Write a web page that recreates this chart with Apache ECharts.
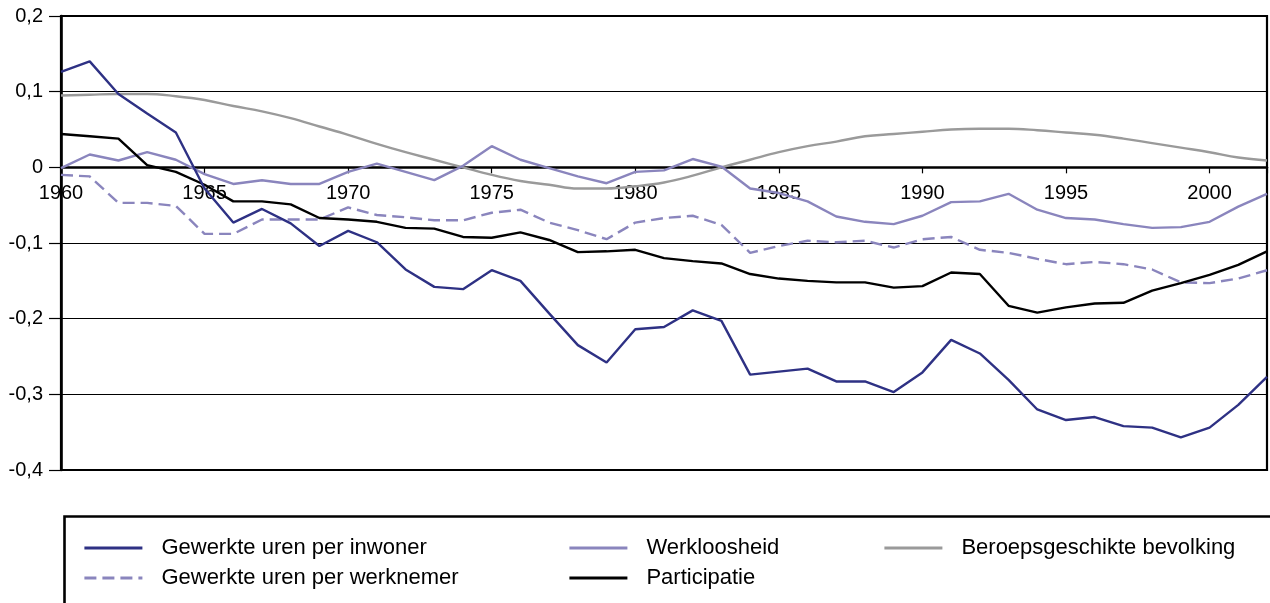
<!DOCTYPE html>
<html>
<head>
<meta charset="utf-8">
<script src="https://cdn.jsdelivr.net/npm/echarts@6/dist/echarts.min.js"></script>
<style>
  html, body { margin: 0; padding: 0; background: #fff; }
  #chart { width: 1270px; height: 603px; }
</style>
</head>
<body>
<div id="chart"></div>
<script>
const years = [1960, 1961, 1962, 1963, 1964, 1965, 1966, 1967, 1968, 1969,
  1970, 1971, 1972, 1973, 1974, 1975, 1976, 1977, 1978, 1979,
  1980, 1981, 1982, 1983, 1984, 1985, 1986, 1987, 1988, 1989,
  1990, 1991, 1992, 1993, 1994, 1995, 1996, 1997, 1998, 1999,
  2000, 2001, 2002]

// Gewerkte uren per inwoner
const urenInwoner = [0.126, 0.140, 0.097, 0.071, 0.046, -0.028, -0.073, -0.055, -0.074, -0.104,
  -0.084, -0.099, -0.135, -0.158, -0.161, -0.136, -0.150, -0.193, -0.235, -0.258,
  -0.214, -0.211, -0.189, -0.203, -0.274, -0.270, -0.266, -0.283, -0.283, -0.297,
  -0.271, -0.228, -0.246, -0.281, -0.320, -0.334, -0.330, -0.342, -0.344, -0.357,
  -0.344, -0.314, -0.277]

// Gewerkte uren per werknemer
const urenWerknemer = [-0.010, -0.012, -0.047, -0.047, -0.051, -0.088, -0.088, -0.069, -0.069, -0.069,
  -0.053, -0.063, -0.066, -0.070, -0.070, -0.060, -0.056, -0.073, -0.083, -0.095,
  -0.073, -0.067, -0.064, -0.076, -0.113, -0.104, -0.097, -0.099, -0.097, -0.106,
  -0.095, -0.092, -0.109, -0.113, -0.121, -0.128, -0.125, -0.128, -0.135, -0.152,
  -0.153, -0.147, -0.136]

// Werkloosheid
const werkloosheid = [-0.001, 0.017, 0.009, 0.020, 0.010, -0.009, -0.022, -0.017, -0.022, -0.022,
  -0.006, 0.005, -0.006, -0.017, 0.002, 0.028, 0.010, -0.001, -0.012, -0.021,
  -0.006, -0.004, 0.011, 0.001, -0.028, -0.034, -0.045, -0.065, -0.072, -0.075,
  -0.064, -0.046, -0.045, -0.035, -0.056, -0.067, -0.069, -0.075, -0.080, -0.079,
  -0.072, -0.052, -0.035]

// Participatie
const participatie = [0.044, 0.041, 0.038, 0.003, -0.006, -0.023, -0.045, -0.045, -0.049, -0.067,
  -0.069, -0.072, -0.080, -0.081, -0.092, -0.093, -0.086, -0.096, -0.112, -0.111,
  -0.109, -0.120, -0.124, -0.127, -0.141, -0.147, -0.150, -0.152, -0.152, -0.159,
  -0.157, -0.139, -0.141, -0.183, -0.192, -0.185, -0.180, -0.179, -0.163, -0.153,
  -0.142, -0.129, -0.111]

// Beroepsgeschikte bevolking
const beroepsBevolking = [0.095, 0.096, 0.097, 0.097, 0.094, 0.089, 0.081, 0.074, 0.065, 0.054,
  0.043, 0.031, 0.020, 0.010, 0.000, -0.010, -0.018, -0.023, -0.028, -0.028,
  -0.025, -0.020, -0.011, 0.000, 0.010, 0.020, 0.028, 0.034, 0.041, 0.044,
  0.047, 0.050, 0.051, 0.051, 0.049, 0.046, 0.043, 0.038, 0.032, 0.026,
  0.020, 0.013, 0.009]

const yTicks = [-0.4, -0.3, -0.2, -0.1, 0, 0.1, 0.2]

const FONT = '"Liberation Sans", Arial, sans-serif'
const pairs = (vals) => years.map((y, i) => [y, vals[i]])

const chart = echarts.init(document.getElementById('chart'))

const lineSeries = (name, vals, color, extra) => Object.assign({
  name: name,
  type: 'line',
  data: pairs(vals),
  symbol: 'none',
  showSymbol: false,
  lineStyle: { color: color, width: 2.4 },
  itemStyle: { color: color },
  animation: false,
}, extra || {})

// one legend block per entry, laid out like the original two-row key
const legendItem = (name, left, top) => ({
  data: [name],
  left: left,
  top: top,
  padding: 0,
  itemWidth: 58,
  itemHeight: 14,
  selectedMode: false,
  itemStyle: { opacity: 0 },
  lineStyle: { width: 2.8 },
  textStyle: { fontFamily: FONT, fontSize: 22, color: '#000', padding: [0, 0, 0, 14] },
})

// grid is 16..470 px tall, zero sits 2/6 of the way down
const zeroOffset = -(454 * 4 / 6)

chart.setOption({
  animation: false,
  grid: {
    left: 61,
    right: -2,
    top: 16,
    bottom: 133,
    show: true,
    borderColor: '#000',
    borderWidth: 2.2,
  },
  xAxis: {
    type: 'value',
    min: 1960,
    max: 2002,
    interval: 5,
    position: 'bottom',
    offset: zeroOffset,
    axisLine: { onZero: false, lineStyle: { color: '#000', width: 2.6 } },
    axisTick: { show: true, length: 6, lineStyle: { color: '#000', width: 1.2 } },
    axisLabel: {
      margin: 16,
      fontFamily: FONT,
      fontSize: 20,
      color: '#000',
      formatter: (v) => (v % 5 === 0 ? String(v) : ''),
    },
    splitLine: { show: false },
  },
  yAxis: {
    type: 'value',
    min: yTicks[0],
    max: yTicks[yTicks.length - 1],
    interval: 0.1,
    axisLine: { show: true, lineStyle: { color: '#000', width: 2.6 } },
    axisTick: { show: true, length: 12, lineStyle: { color: '#000', width: 1.2 } },
    axisLabel: {
      margin: 18,
      fontFamily: FONT,
      fontSize: 20,
      color: '#000',
      formatter: (v) => (Math.abs(v) < 1e-9 ? '0' : v.toFixed(1).replace('.', ',')),
    },
    splitLine: { show: true, lineStyle: { color: '#000', width: 1.2 } },
  },
  legend: [
    legendItem('Gewerkte uren per inwoner', 83, 537),
    legendItem('Gewerkte uren per werknemer', 83, 567),
    legendItem('Werkloosheid', 568, 537),
    legendItem('Participatie', 568, 567),
    legendItem('Beroepsgeschikte bevolking', 883, 537),
  ],
  graphic: [{
    type: 'rect',
    left: 62,
    top: 514,
    shape: { width: 1260, height: 120 },
    style: { fill: 'none', stroke: '#000', lineWidth: 2.6 },
    silent: true,
  }],
  series: [
    lineSeries('Beroepsgeschikte bevolking', beroepsBevolking, '#9a9a9a', { smooth: 0.4 }),
    lineSeries('Werkloosheid', werkloosheid, '#8a85bd'),
    lineSeries('Gewerkte uren per werknemer', urenWerknemer, '#8a85bd', {
      lineStyle: { color: '#8a85bd', width: 2.4, type: [12, 6] },
    }),
    lineSeries('Participatie', participatie, '#000'),
    lineSeries('Gewerkte uren per inwoner', urenInwoner, '#2e3184'),
  ],
})
</script>
</body>
</html>
